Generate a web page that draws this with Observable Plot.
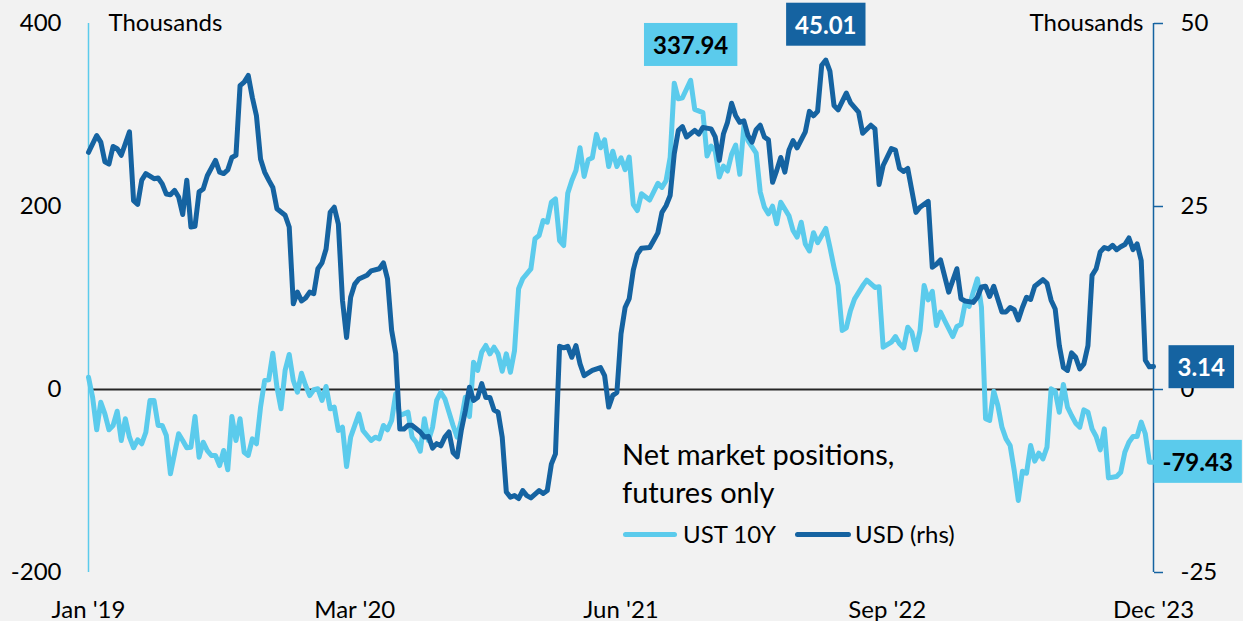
<!DOCTYPE html>
<html><head><meta charset="utf-8">
<script src="https://cdn.jsdelivr.net/npm/d3@7"></script>
<script src="https://cdn.jsdelivr.net/npm/@observablehq/plot@0.6"></script>
<style>
html,body{margin:0;padding:0;background:#f2f2f2;}
#wrap{position:relative;width:1243px;height:621px;font-family:Lato,sans-serif;color:#000;}
.leg{position:absolute;white-space:nowrap;}
.swatch{position:absolute;height:5px;border-radius:2.5px;}
</style></head><body><div id="wrap"></div>
<script>
// ---- data (weeks since 2019-01-01, values in thousands of contracts) ----
const startDate = "2019-01-01";
const ustWeeks = [0,1,2,3,4,5,6,7,8,9,10,11,12,13,14,15,16,17,18,19,20,21,22,23,24,25,26,27,28,29,30,31,32,33,34,35,36,37,38,39,40,41,42,43,44,45,46,47,48,49,50,51,52,53,54,55,56,57,58,59,60,61,62,63,64,66,67,69,70,71,72,73,74,75,76,77,78,79,80,81,82,83,84,85,86,87,89,90,91,92,93,94,95,96,97,98,99,100,101,102,103,104,105,106,108,109,110,111,112,113,114,115,116,117,118,119,120,121,122,123,124,125,126,127,128,129,130,131,132,133,134,135,137,139,140,141,142,143,144,145,147,148,150,151,152,153,154,155,156,157,158,159,160,161,163,164,165,166,167,168,169,171,172,173,174,175,176,177,178,180,181,182,183,184,185,186,187,189,190,192,193,194,196,197,198,199,200,201,202,203,204,205,206,207,208,209,211,212,213,214,215,216,217,218,219,220,221,222,223,224,225,226,227,228,229,230,231,232,233,234,235,236,237,238,239,240,241,242,243,244,245,246,247,248,249,250,251,252,253,254,255,256,257,258,259,260];
const ustValues = [13.4,-8.4,-44.0,-13.9,-26.6,-44.0,-39.3,-23.7,-55.7,-32.0,-52.1,-63.7,-55.0,-59.3,-46.7,-12.0,-12.0,-39.3,-39.3,-50.3,-92.1,-70.3,-48.4,-55.7,-63.7,-63.1,-29.5,-74.0,-57.6,-66.7,-72.1,-72.1,-83.1,-66.7,-87.8,-29.5,-55.7,-32.0,-68.5,-72.1,-53.9,-59.3,-19.3,9.8,10.6,39.7,2.5,-21.1,20.8,38.3,9.8,-3.0,17.8,4.4,-6.6,-0.3,0.8,-12.0,3.3,-21.1,-19.3,-44.8,-41.2,-84.2,-52.1,-26.6,-44.8,-55.7,-52.1,-53.9,-39.3,-44.0,-33.9,-4.7,-28.4,-26.6,-24.8,-52.1,-57.6,-67.4,-32.0,-55.7,-41.2,-12.0,-3.0,-10.2,-39.3,-52.1,-33.9,-8.4,-29.5,29.8,20.8,40.8,48.1,39.0,46.2,39.0,20.0,39.0,18.9,42.3,110.1,121.0,131.9,164.7,168.3,184.7,182.8,204.7,208.4,162.8,157.4,214.5,228.4,239.3,264.2,232.8,251.1,253.3,278.8,264.2,272.9,243.7,260.4,243.7,253.3,240.2,254.0,202.2,195.6,214.0,207.1,225.3,220.9,228.2,253.7,334.8,317.7,318.8,337.94,306.2,302.6,255.2,266.1,260.7,232.2,244.2,238.8,257.0,267.2,235.2,288.0,272.1,258.3,215.7,199.3,192.0,200.3,181.1,204.7,189.9,173.8,166.5,182.8,159.1,151.4,171.4,160.5,176.0,155.5,133.7,113.7,64.5,67.4,86.0,98.8,113.3,119.5,111.5,112.2,46.2,51.7,57.9,49.9,45.5,68.1,62.6,43.4,64.5,113.7,98.0,107.4,69.9,84.5,75.4,57.9,68.9,71.0,93.7,90.8,106.4,121.0,89.9,-32.0,-33.9,-1.9,-17.5,-41.2,-53.9,-61.2,-88.5,-121.3,-89.3,-91.5,-61.2,-78.3,-69.6,-75.8,-63.0,0.7,-1.9,-24.8,5.5,-19.3,-28.4,-36.8,-41.2,-22.2,-24.8,-43.0,-51.4,-66.0,-43.0,-96.6,-95.9,-95.1,-90.4,-68.5,-57.6,-51.4,-51.4,-35.7,-48.4,-79.4,-79.43];
const usdWeeks = [0,2,3,4,5,6,7,8,10,11,12,13,14,16,17,18,19,20,21,22,23,24,25,26,27,28,29,31,32,33,34,35,36,37,38,39,40,41,42,43,44,45,46,48,49,50,51,52,53,54,55,56,57,58,59,60,61,62,63,64,65,66,68,69,71,72,73,74,75,76,77,78,79,81,82,83,84,85,86,87,88,89,90,91,92,93,94,95,96,97,98,99,100,101,102,103,104,105,106,107,108,110,111,112,113,114,115,116,117,118,119,120,121,123,125,126,127,128,129,130,131,132,133,134,135,137,138,139,140,141,142,143,144,145,146,148,149,150,152,153,154,155,156,157,158,159,160,161,162,163,164,165,166,167,168,169,170,171,172,173,175,176,177,178,179,180,181,182,183,185,186,188,189,191,192,193,194,196,197,198,199,200,202,203,205,206,207,208,210,212,213,214,216,217,218,219,220,221,223,224,225,226,227,228,229,230,231,233,234,235,236,237,238,239,240,241,242,243,244,245,246,247,248,249,250,251,252,253,254,255,256,257,258,259,260];
const usdValues = [32.4,34.7,33.8,31.1,30.8,33.2,32.9,32.0,35.2,25.8,25.3,28.6,29.5,28.8,28.9,28.1,26.7,26.6,27.2,26.3,23.9,28.6,22.2,22.3,27.0,27.4,29.2,31.3,29.7,29.5,30.0,31.7,32.0,41.5,42.0,42.9,39.9,37.4,31.5,29.7,28.6,27.6,24.7,23.8,22.2,11.7,13.3,12.1,12.5,13.3,13.1,16.5,17.3,19.2,24.2,24.9,22.6,12.2,7.1,12.6,14.4,15.1,15.6,16.2,16.5,17.3,15.1,8.1,4.9,-5.4,-5.4,-4.9,-4.9,-5.8,-6.5,-6.4,-8.0,-7.4,-7.7,-6.5,-5.8,-8.6,-9.2,-5.6,-2.9,0.3,-1.5,-1.1,0.8,-1.1,-1.1,-2.8,-3.1,-6.5,-14.0,-14.7,-14.5,-14.9,-13.8,-14.5,-14.8,-13.8,-14.2,-13.8,-10.2,-8.8,5.9,5.7,5.9,4.4,6.0,3.5,1.9,2.6,3.0,1.9,-2.4,-0.8,-0.4,7.6,11.2,12.4,16.3,18.5,19.3,19.4,20.4,21.4,24.2,25.1,26.5,32.2,35.4,35.9,34.5,35.4,34.9,35.8,35.6,34.5,31.3,34.9,36.5,39.1,37.4,36.5,36.7,34.7,33.8,35.5,36.1,34.5,34.1,28.3,29.9,31.7,29.7,32.7,34.0,33.0,35.2,38.0,37.4,38.0,44.3,45.01,43.5,38.8,38.2,40.5,39.2,37.9,35.0,36.1,35.6,28.0,30.6,32.9,32.7,30.2,29.8,30.2,24.2,24.9,25.7,16.7,17.1,17.7,13.3,16.5,12.4,12.1,11.9,12.6,14.0,14.1,12.7,14.1,10.6,10.6,11.2,10.9,9.5,11.2,12.6,12.3,14.1,15.0,14.5,12.2,11.0,6.0,3.0,2.6,5.0,4.4,2.8,3.5,6.0,15.6,16.5,18.8,19.4,19.2,19.7,19.1,19.5,19.8,20.7,19.1,19.9,17.6,4.0,3.1,3.14];
const lhsTicks = [-200, 0, 200, 400];
const rhsTicks = [-25, 0, 25, 50];
const xTickWeeks = [0, 65, 130, 195, 260];
const xTickLabels = ["Jan '19", "Mar '20", "Jun '21", "Sep '22", "Dec '23"];
const unitLabel = "Thousands";
const legendTitle = ["Net market positions,", "futures only"];
const seriesNames = ["UST 10Y", "USD (rhs)"];
const colors = {ust: "#5BCBEC", usd: "#1563A1"};

// ---- build ----
const t0 = new Date(startDate + "T00:00:00Z");
const toDate = w => d3.utcDay.offset(t0, w * 7);
const ust = ustWeeks.map((w, i) => ({date: toDate(w), value: ustValues[i]}));
const usd = usdWeeks.map((w, i) => ({date: toDate(w), value: usdValues[i]}));
const ratio = d3.max(lhsTicks) / d3.max(rhsTicks);
const xTicks = xTickWeeks.map(toDate);
const yMin = d3.min(lhsTicks), yMax = d3.max(lhsTicks);
const ustPeak = ust[d3.maxIndex(ust, d => d.value)];
const usdPeak = usd[d3.maxIndex(usd, d => d.value)];
const ustLast = ust[ust.length - 1], usdLast = usd[usd.length - 1];
const fmt = v => d3.format(".2f")(v).replace("\u2212", "-");
const boxText = {fontWeight: "bold", fontSize: 24, fontFamily: "Lato, sans-serif"};

const chart = Plot.plot({
  width: 1243, height: 621,
  marginLeft: 88, marginRight: 90, marginTop: 23, marginBottom: 49,
  style: {background: "#f2f2f2", fontFamily: "Lato, sans-serif", fontSize: "24px", color: "#000", overflow: "visible"},
  x: {type: "utc", domain: [xTicks[0], xTicks[xTicks.length - 1]]},
  y: {domain: [yMin, yMax]},
  marks: [
    Plot.ruleY([0], {stroke: "#262626", strokeWidth: 2}),
    Plot.ruleX([xTicks[0]], {y1: yMin, y2: yMax, stroke: colors.ust, strokeWidth: 1.5}),
    Plot.ruleX([xTicks[xTicks.length - 1]], {y1: yMin, y2: yMax, stroke: colors.usd, strokeWidth: 1.5}),
    Plot.axisY({anchor: "left", ticks: lhsTicks, tickFormat: v => String(v), tickSize: 0, tickPadding: 27, fontSize: 24, label: null}),
    Plot.axisY({anchor: "right", ticks: rhsTicks.map(v => v * ratio), tickFormat: v => String(v / ratio), tickSize: 9, tickPadding: 18, stroke: colors.usd, strokeWidth: 1.5, fill: "#000", fontSize: 24, label: null}),
    Plot.axisX({ticks: xTicks, tickFormat: (d, i) => xTickLabels[i], tickSize: 0, tickPadding: 28, fontSize: 24, label: null}),
    Plot.line(ust, {x: "date", y: "value", stroke: colors.ust, strokeWidth: 5, strokeLinejoin: "round"}),
    Plot.line(usd, {x: "date", y: d => d.value * ratio, stroke: colors.usd, strokeWidth: 5, strokeLinejoin: "round"}),
    Plot.text([unitLabel], {frameAnchor: "top-left", dx: 20, textAnchor: "start", lineAnchor: "middle", fontSize: 24}),
    Plot.text([unitLabel], {frameAnchor: "top-right", dx: -10, textAnchor: "end", lineAnchor: "middle", fontSize: 24}),
    Plot.text([ustPeak], {x: "date", y: "value", text: d => fmt(d.value), dy: -34, fill: "#000", ...boxText}),
    Plot.text([usdPeak], {x: "date", y: d => d.value * ratio, text: d => fmt(d.value), dy: -34, fill: "#fff", ...boxText}),
    Plot.text([usdLast], {x: "date", y: d => d.value * ratio, text: d => fmt(d.value), textAnchor: "start", dx: 24, dy: 2, fill: "#fff", ...boxText}),
    Plot.text([ustLast], {x: "date", y: "value", text: d => fmt(d.value), textAnchor: "start", dx: 9, dy: 1, fill: "#000", ...boxText})
  ]
});

const wrap = document.getElementById("wrap");
wrap.append(chart);

// boxes behind value labels
const boxSpecs = [
  [fmt(ustPeak.value), colors.ust], [fmt(ustLast.value), colors.ust],
  [fmt(usdPeak.value), colors.usd], [fmt(usdLast.value), colors.usd]
];
chart.querySelectorAll("text").forEach(t => {
  const spec = boxSpecs.find(s => s[0] === t.textContent.trim());
  if (!spec) return;
  const b = t.getBBox();
  const r = document.createElementNS("http://www.w3.org/2000/svg", "rect");
  r.setAttribute("x", b.x - 9);
  r.setAttribute("y", b.y + b.height / 2 - 21.5);
  r.setAttribute("width", b.width + 18);
  r.setAttribute("height", 43);
  r.setAttribute("fill", spec[1]);
  r.setAttribute("stroke", "none");
  if (t.getAttribute("transform")) r.setAttribute("transform", t.getAttribute("transform"));
  t.parentNode.insertBefore(r, t);
});

// legend
const title = document.createElement("div");
title.className = "leg";
Object.assign(title.style, {left: "622px", top: "435px", fontSize: "29px", lineHeight: "38px"});
title.innerHTML = legendTitle.join("<br>");
wrap.append(title);
const legItems = [
  {name: seriesNames[0], color: colors.ust, sx: 623, sw: 54, tx: 683},
  {name: seriesNames[1], color: colors.usd, sx: 795, sw: 56, tx: 855}
];
for (const it of legItems) {
  const s = document.createElement("span");
  s.className = "swatch";
  Object.assign(s.style, {left: it.sx + "px", top: "531.5px", width: it.sw + "px", background: it.color});
  wrap.append(s);
  const t = document.createElement("div");
  t.className = "leg";
  Object.assign(t.style, {left: it.tx + "px", top: "519px", fontSize: "24px", lineHeight: "30px"});
  t.textContent = it.name;
  wrap.append(t);
}
</script></body></html>
